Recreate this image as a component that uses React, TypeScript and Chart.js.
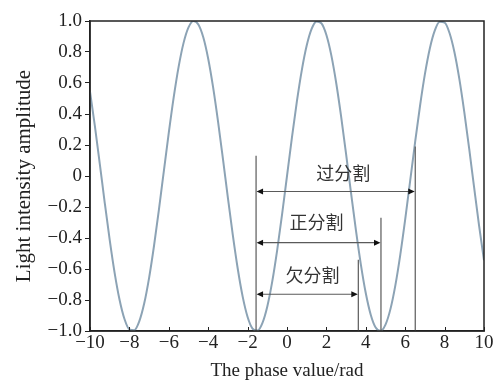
import React, { useEffect, useRef } from "react";
import { Chart, registerables } from "chart.js";

Chart.register(...registerables);

const phase = [
  -10, -9.75, -9.5, -9.25, -9, -8.75, -8.5, -8.25, -8, -7.75, -7.5, -7.25, -7, -6.75, -6.5, -6.25,
  -6, -5.75, -5.5, -5.25, -5, -4.75, -4.5, -4.25, -4, -3.75, -3.5, -3.25, -3, -2.75, -2.5, -2.25,
  -2, -1.75, -1.5, -1.25, -1, -0.75, -0.5, -0.25, 0, 0.25, 0.5, 0.75, 1, 1.25, 1.5, 1.75,
  2, 2.25, 2.5, 2.75, 3, 3.25, 3.5, 3.75, 4, 4.25, 4.5, 4.75, 5, 5.25, 5.5, 5.75,
  6, 6.25, 6.5, 6.75, 7, 7.25, 7.5, 7.75, 8, 8.25, 8.5, 8.75, 9, 9.25, 9.5, 9.75, 10,
];

const amplitude = [
  0.544, 0.3195, 0.0752, -0.1743, -0.4121, -0.6247, -0.7985, -0.9227, -0.9894, -0.9946, -0.938, -0.8231, -0.657, -0.45, -0.2151, 0.0332,
  0.2794, 0.5083, 0.7055, 0.8589, 0.9589, 0.9993, 0.9775, 0.895, 0.7568, 0.5716, 0.3508, 0.1082, -0.1411, -0.3817, -0.5985, -0.7781,
  -0.9093, -0.984, -0.9975, -0.949, -0.8415, -0.6816, -0.4794, -0.2474, 0, 0.2474, 0.4794, 0.6816, 0.8415, 0.949, 0.9975, 0.984,
  0.9093, 0.7781, 0.5985, 0.3817, 0.1411, -0.1082, -0.3508, -0.5716, -0.7568, -0.895, -0.9775, -0.9993, -0.9589, -0.8589, -0.7055, -0.5083,
  -0.2794, -0.0332, 0.2151, 0.45, 0.657, 0.8231, 0.938, 0.9946, 0.9894, 0.9227, 0.7985, 0.6247, 0.4121, 0.1743, -0.0752, -0.3195, -0.544,
];

const xTicks = [-10, -8, -6, -4, -2, 0, 2, 4, 6, 8, 10];
const yTicks = [-1, -0.8, -0.6, -0.4, -0.2, 0, 0.2, 0.4, 0.6, 0.8, 1];

// vertical marker lines: x position and top value (bottom at -1)
const markerX = [-1.57, 3.62, 4.77, 6.51];
const markerTop = [0.13, -0.54, -0.27, 0.19];

// arrows: start x, end x, y value, label
const arrowStart = [-1.57, -1.57, -1.57];
const arrowEnd = [6.51, 4.77, 3.62];
const arrowY = [-0.1, -0.43, -0.763];
const arrowLabels = ["过分割", "正分割", "欠分割"];
const labelY = [0.02, -0.3, -0.64];
const labelX = [2.85, 1.5, 1.3];

const fmt = (v: number, dec: boolean) => {
  if (Math.abs(v) < 1e-9) return "0";
  const s = dec ? Math.abs(v).toFixed(1) : String(Math.abs(v));
  return (v < 0 ? "\u2212" : "") + s;
};

const annotationPlugin = {
  id: "annot",
  afterDatasetsDraw(chart: any) {
    const { ctx, chartArea, scales } = chart;
    const xs = scales.x;
    const ys = scales.y;
    ctx.save();
    // inward x ticks
    ctx.strokeStyle = "#222";
    ctx.lineWidth = 1;
    xTicks.forEach((t) => {
      const px = Math.round(xs.getPixelForValue(t)) + 0.5;
      ctx.beginPath();
      ctx.moveTo(px, chartArea.bottom);
      ctx.lineTo(px, chartArea.bottom - 4);
      ctx.stroke();
    });
    // markers
    ctx.strokeStyle = "#5a5a5a";
    ctx.lineWidth = 1.2;
    markerX.forEach((mx, i) => {
      const px = xs.getPixelForValue(mx);
      ctx.beginPath();
      ctx.moveTo(px, ys.getPixelForValue(-1));
      ctx.lineTo(px, ys.getPixelForValue(markerTop[i]));
      ctx.stroke();
    });
    // arrows
    arrowStart.forEach((sx, i) => {
      const x1 = xs.getPixelForValue(sx);
      const x2 = xs.getPixelForValue(arrowEnd[i]);
      const py = ys.getPixelForValue(arrowY[i]);
      ctx.strokeStyle = "#5a5a5a";
      ctx.lineWidth = 1.2;
      ctx.beginPath();
      ctx.moveTo(x1 + 4, py);
      ctx.lineTo(x2 - 4, py);
      ctx.stroke();
      ctx.fillStyle = "#111";
      ctx.beginPath();
      ctx.moveTo(x1 + 0.5, py);
      ctx.lineTo(x1 + 7, py - 3);
      ctx.lineTo(x1 + 7, py + 3);
      ctx.closePath();
      ctx.fill();
      ctx.beginPath();
      ctx.moveTo(x2 - 0.5, py);
      ctx.lineTo(x2 - 7, py - 3);
      ctx.lineTo(x2 - 7, py + 3);
      ctx.closePath();
      ctx.fill();
      ctx.fillStyle = "#333";
      ctx.font = '18px "Noto Sans CJK SC"';
      ctx.textAlign = "center";
      ctx.textBaseline = "middle";
      ctx.fillText(arrowLabels[i], xs.getPixelForValue(labelX[i]), ys.getPixelForValue(labelY[i]));
    });
    // frame
    ctx.strokeStyle = "#222";
    ctx.lineWidth = 1.5;
    ctx.strokeRect(chartArea.left, chartArea.top, chartArea.right - chartArea.left, chartArea.bottom - chartArea.top);
    ctx.restore();
  },
};

export default function App() {
  const ref = useRef<HTMLCanvasElement | null>(null);
  useEffect(() => {
    if (!ref.current) return;
    const family = '"Liberation Serif", "Times New Roman", serif';
    const tickFont = { family, size: 19 };
    const chart = new Chart(ref.current, {
      type: "scatter",
      data: {
        datasets: [
          {
            data: phase.map((x, i) => ({ x, y: amplitude[i] })),
            showLine: true,
            borderColor: "#8ca3b5",
            borderWidth: 2,
            pointRadius: 0,
            cubicInterpolationMode: "monotone",
          } as any,
        ],
      },
      options: {
        animation: false,
        responsive: false,
        maintainAspectRatio: false,
        layout: { padding: { top: 21, right: 13, left: 0, bottom: 0 } },
        plugins: { legend: { display: false }, tooltip: { enabled: false } },
        scales: {
          x: {
            type: "linear",
            min: -10,
            max: 10,
            afterBuildTicks: (s: any) => {
              s.ticks = xTicks.map((v) => ({ value: v }));
            },
            afterFit: (s: any) => {
              s.height = 52;
            },
            grid: { display: true, drawOnChartArea: false, drawTicks: false, color: "#222" },
            border: { display: true, color: "#222", width: 1.5 },
            ticks: {
              padding: 1,
              color: "#222",
              font: tickFont,
              maxRotation: 0,
              autoSkip: false,
              callback: (v: any) => fmt(Number(v), false),
            },
            title: {
              display: true,
              text: "The phase value/rad",
              color: "#222",
              font: { family, size: 19 },
              padding: { top: 0, bottom: 1 },
            },
          },
          y: {
            type: "linear",
            min: -1,
            max: 1,
            afterBuildTicks: (s: any) => {
              s.ticks = yTicks.map((v) => ({ value: v }));
            },
            afterFit: (s: any) => {
              s.width = 90;
            },
            grid: { display: true, drawOnChartArea: false, drawTicks: true, tickLength: 5, color: "#222" },
            border: { display: true, color: "#222", width: 1.5 },
            ticks: {
              padding: 3,
              color: "#222",
              font: tickFont,
              autoSkip: false,
              callback: (v: any) => fmt(Number(v), true),
            },
            title: {
              display: true,
              text: "Light intensity amplitude",
              color: "#222",
              font: { family, size: 21 },
              padding: { top: 12, bottom: 0 },
            },
          },
        },
      },
      plugins: [annotationPlugin],
    });
    return () => chart.destroy();
  }, []);
  return (
    <div style={{ position: "absolute", left: 0, top: 0, width: 497, height: 383, background: "#fff" }}>
      <canvas ref={ref} width={497} height={383} style={{ width: 497, height: 383, display: "block" }} />
    </div>
  );
}
